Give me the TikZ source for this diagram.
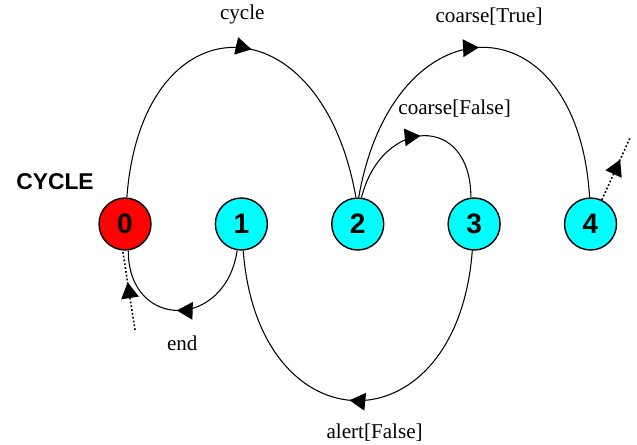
\documentclass[tikz,border=0pt]{standalone}
\usepackage{fontspec}
\setmainfont{Liberation Serif}
\setsansfont{Liberation Sans}
\usetikzlibrary{arrows.meta,positioning,decorations.markings}

\definecolor{stateaqua}{RGB}{0,255,255}
\definecolor{startred}{RGB}{255,0,0}

\begin{document}
\begin{tikzpicture}[
    x=0.02cm, y=-0.02cm,
    state/.style={circle, draw=black, line width=0.8pt, fill=stateaqua, minimum size=1.04cm, inner sep=0pt, font=\sffamily\bfseries\fontsize{16}{16}\selectfont},
    trans/.style={line width=0.6pt, postaction={decorate}, decoration={markings, mark=at position #1 with {\arrow{Triangle[length=9pt, width=10pt]}}}},
    trans/.default=0.5,
    entry/.style={trans=#1, line width=0.9pt, dash pattern=on 1pt off 1.2pt},
    entry/.default=0.6,
    lbl/.style={font=\fontsize{12}{14}\selectfont},
    node distance=1.26cm
    ]
    \useasboundingbox (0,0) rectangle (637,444);

    \node[state, fill=startred] (s0) at (125,224) {0};
    \node[state, right=of s0] (s1) {1};
    \node[state, right=of s1] (s2) {2};
    \node[state, right=of s2] (s3) {3};
    \node[state, right=of s3] (s4) {4};
    \node[font=\sffamily\bfseries\fontsize{13}{15}\selectfont] (title) at (55,182) {CYCLE};

    \coordinate (init) at (135,330);
    \coordinate (exit) at (630,138);

    % arcs over the top
    \draw[trans=0.535] (s0.86) .. controls +(15,-200) and +(-35,-200) .. (s2.94)
        node[lbl, pos=0.5, xshift=4.8pt, yshift=18.7pt] {cycle};
    \draw[trans] (s2.88) .. controls +(35,-200) and +(-12,-200) .. (s4.92)
        node[lbl, pos=0.5, xshift=3.6pt, yshift=17.6pt] {coarse[True]};
    \draw[trans] (s2.82) .. controls +(20,-80) and +(0,-85) .. (s3.97)
        node[lbl, pos=0.5, xshift=17.6pt, yshift=15.3pt] {coarse[False]};

    % arcs underneath
    \draw[trans=0.52] (s3.266) .. controls +(-15,200) and +(15,200) .. (s1.274)
        node[lbl, pos=0.5, xshift=9.6pt, yshift=-18.1pt] {alert[False]};
    \draw[trans=0.52] (s1.261) .. controls +(-12,80) and +(0,80) .. (s0.277)
        node[lbl, pos=0.5, xshift=2.3pt, yshift=-18.7pt] {end};

    % entry and exit
    \draw[entry] (init) -- (s0.265);
    \draw[entry=0.65] (s4.65) -- (exit);
\end{tikzpicture}
\end{document}
